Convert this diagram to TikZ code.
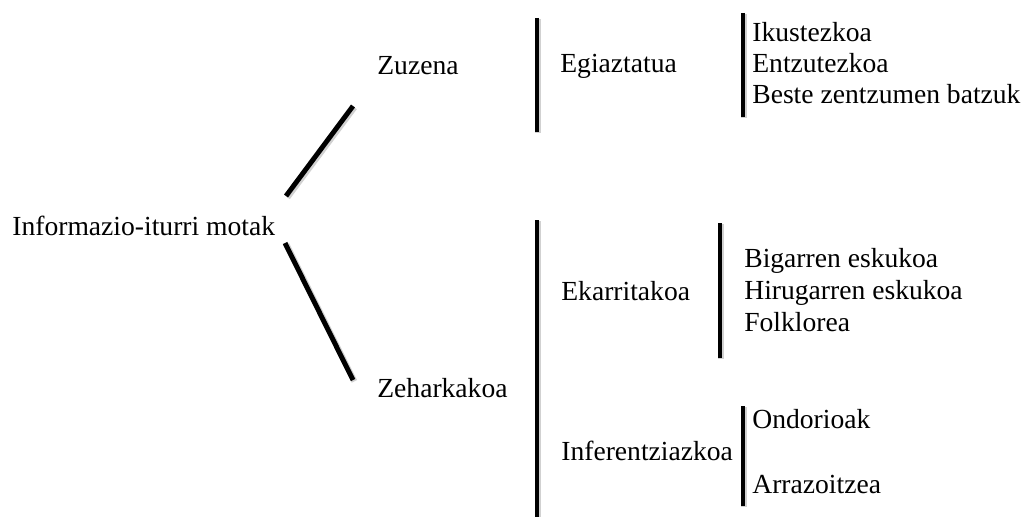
\documentclass[tikz,border=0pt]{standalone}
\usepackage{fontspec}
\setmainfont{Liberation Serif}
\usetikzlibrary{positioning}

\begin{document}
\begin{tikzpicture}[x=0.2mm,y=-0.2mm,
  textnode/.style={anchor=base west,inner sep=0pt,font=\fontsize{15.7}{18}\selectfont},
  barline/.style={line width=2.8pt,preaction={draw=black!18,line width=3.4pt,transform canvas={shift={(0.8pt,-0.8pt)}}}}]
  \useasboundingbox (0,0) rectangle (1022,516);

  \node[textnode] (root) at (12,235) {Informazio-iturri motak};
  \node[textnode] (zuzena) at (377,74) {Zuzena};
  \node[textnode] (zeharkakoa) at (377,397) {Zeharkakoa};

  \node[textnode] (egiaztatua) at (560,73) {Egiaztatua};
  \node[textnode] (ekarritakoa) at (561,300) {Ekarritakoa};
  \node[textnode] (inferentziazkoa) at (561,460) {Inferentziazkoa};

  \node[textnode] (ikus) at (752,42) {Ikustezkoa};
  \node[textnode] (entzu) at ([yshift=-0.62cm]ikus.base west) {Entzutezkoa};
  \node[textnode] (beste) at ([yshift=-0.61cm]entzu.base west) {Beste zentzumen batzuk};

  \node[textnode] (bigarren) at (744,267) {Bigarren eskukoa};
  \node[textnode] (hirugarren) at ([yshift=-0.645cm]bigarren.base west) {Hirugarren eskukoa};
  \node[textnode] (folklorea) at ([yshift=-0.645cm]hirugarren.base west) {Folklorea};

  \node[textnode] (ondorioak) at (752,428) {Ondorioak};
  \node[textnode] (arrazoitzea) at (752,493) {Arrazoitzea};

  \coordinate (up1) at (286,196);
  \coordinate (up2) at (353,106);
  \coordinate (down1) at (285,243);
  \coordinate (down2) at (353,380);

  \draw[barline] (up1) -- (up2);
  \draw[barline] (down1) -- (down2);

  \draw[barline] (537,18) -- (537,132);
  \draw[barline] (743,13) -- (743,117);
  \draw[barline] (537,220) -- (537,520);
  \draw[barline] (720,223) -- (720,358);
  \draw[barline] (743,406) -- (743,506);
\end{tikzpicture}
\end{document}
